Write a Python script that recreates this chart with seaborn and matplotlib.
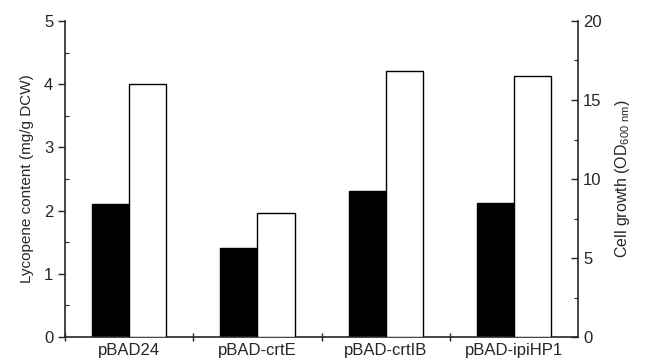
import numpy as np
import pandas as pd
import matplotlib
matplotlib.use("Agg")
import matplotlib.pyplot as plt
import seaborn as sns

# valeurs
strains = ["pBAD24", "pBAD-crtE", "pBAD-crtIB", "pBAD-ipiHP1"]
lycopene = [2.10, 1.41, 2.31, 2.12]        # mg/g DCW (axe gauche)
cell_growth = [16.0, 7.85, 16.85, 16.5]   # OD600 (axe droit)

sns.set_style("ticks")
plt.rcParams["font.family"] = ["Liberation Sans", "DejaVu Sans"]
plt.rcParams["mathtext.default"] = "regular"

df_lyc = pd.DataFrame({"strain": strains, "value": lycopene, "series": "Lycopene"})
df_od = pd.DataFrame({"strain": strains, "value": cell_growth, "series": "Growth"})
levels = ["Lycopene", "Growth"]
pal = {"Lycopene": "black", "Growth": "white"}

fig = plt.figure(figsize=(6.46, 3.62), dpi=100)
ax = fig.add_axes([0.1006, 0.069, 0.7944, 0.873])
ax2 = ax.twinx()

sns.barplot(data=df_lyc, x="strain", y="value", hue="series", hue_order=levels,
            order=strains, palette=pal, edgecolor="black", linewidth=1.0,
            width=0.58, dodge=True, legend=False, ax=ax)
sns.barplot(data=df_od, x="strain", y="value", hue="series", hue_order=levels,
            order=strains, palette=pal, edgecolor="black", linewidth=1.0,
            width=0.58, dodge=True, legend=False, ax=ax2)

ax.set_xlim(-0.5, 3.5)
ax.set_ylim(0, 5)
ax2.set_ylim(0, 20)

# axe x : traits aux limites des groupes, étiquettes au centre
ax.set_xticks([-0.5, 0.5, 1.5, 2.5])
ax.set_xticklabels([])
ax.set_xticks(range(len(strains)), strains, minor=True)
ax.tick_params(axis="x", which="major", direction="inout", length=6, width=1)
ax.tick_params(axis="x", which="minor", length=0, labelsize=12, pad=4)

ax.set_yticks([0, 1, 2, 3, 4, 5])
ax.set_yticks(np.arange(0.5, 5, 1), minor=True)
ax.tick_params(axis="y", which="major", direction="out", length=5, width=1, labelsize=12)
ax.tick_params(axis="y", which="minor", direction="in", length=3, width=0.8)

ax2.set_yticks([0, 5, 10, 15, 20])
ax2.set_yticks([2.5, 7.5, 12.5, 17.5], minor=True)
ax2.tick_params(axis="y", which="major", direction="in", length=5, width=1, labelsize=12)
ax2.tick_params(axis="y", which="minor", direction="in", length=3, width=0.8)

for a in (ax, ax2):
    a.spines["top"].set_visible(False)
    for s in a.spines.values():
        s.set_linewidth(1.2)
ax.spines["right"].set_visible(False)
ax2.spines["left"].set_visible(False)
ax2.spines["bottom"].set_visible(False)

ax.set_xlabel("")
ax.set_ylabel("Lycopene content (mg/g DCW)", fontsize=11, labelpad=7)
ax2.set_ylabel("Cell growth (OD$_{600\\ nm}$)", fontsize=11.5, labelpad=8)

fig.savefig("out.png", dpi=100)
